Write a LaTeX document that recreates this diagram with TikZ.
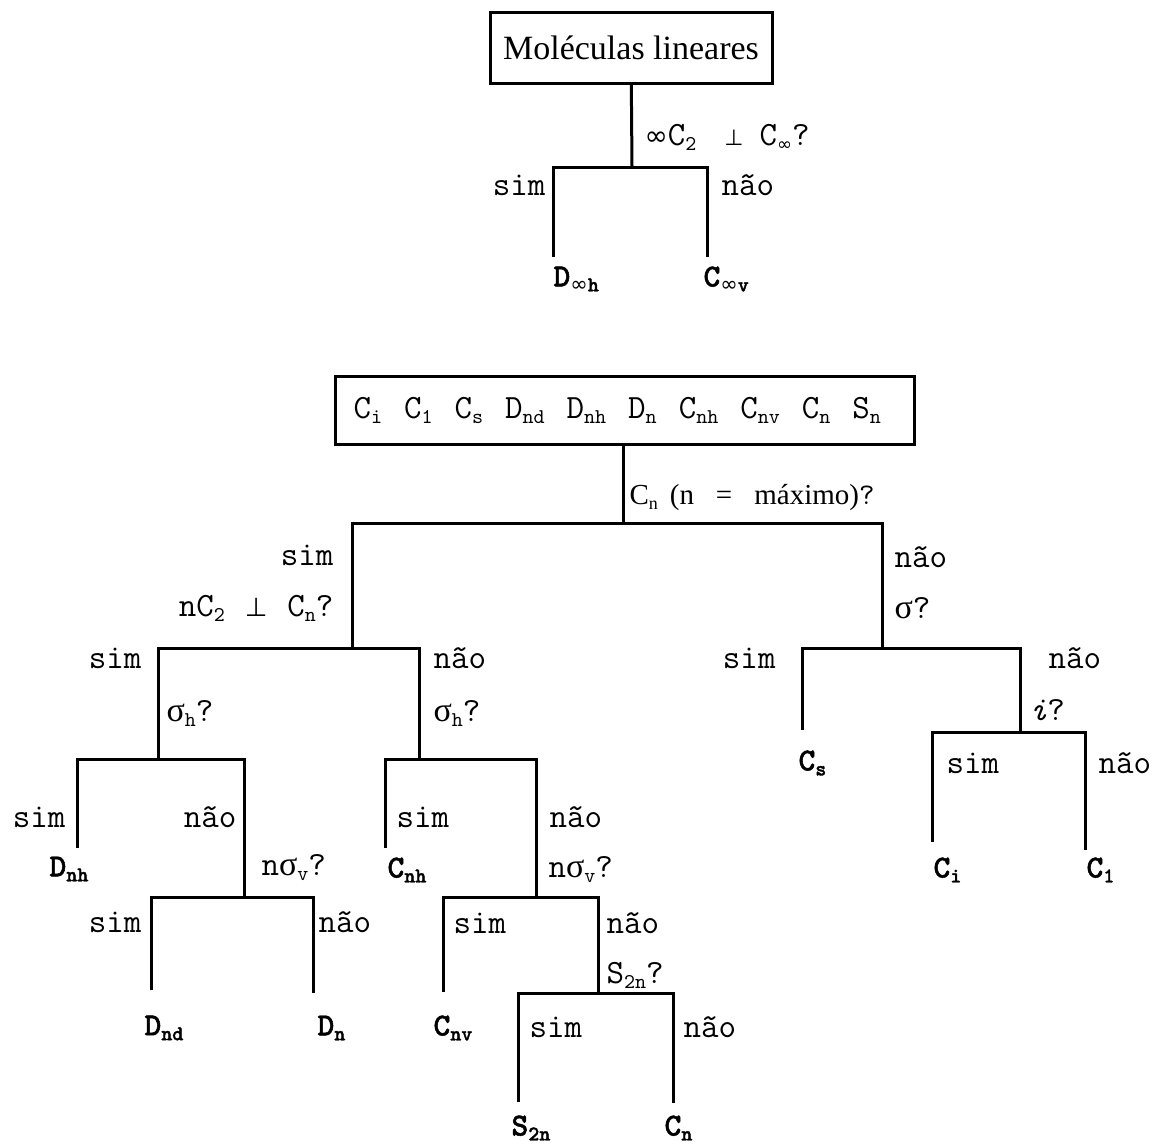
\documentclass[tikz,border=0pt]{standalone}
\usepackage{fontspec}
\setmainfont{Liberation Serif}
\newfontfamily\symf{DejaVu Sans}
\newfontfamily\bmono{lmmonolt10-bold.otf}[FakeBold=1.5]
\newcommand\lo[2][10.5]{\raisebox{-2.5pt}{\fontsize{#1}{#1}\selectfont #2}}
\newcommand\sig{{\rmfamily σ}}
\newcommand\gap{\hspace{11pt}}

\begin{document}
\begin{tikzpicture}[x=0.5pt,y=-0.5pt,line width=1.5pt,
  txt/.style={inner sep=0pt,font=\fontsize{17}{17}\ttfamily},
  res/.style={inner sep=0pt,anchor=west,font=\fontsize{16}{16}\bmono},
  grp/.style={draw,inner sep=0pt}]
\useasboundingbox (0,0) rectangle (1155,1146);

\node[grp,minimum width=141pt,minimum height=35.5pt,font=\fontsize{17}{17}\selectfont] (m1) at (631,47.5) {Moléculas lineares};
\coordinate (q1) at (632,167);
\coordinate (e1) at (553,257);
\coordinate (e2) at (707,257);
\draw (m1) -- (q1);
\draw (e1) |- (q1) -| (e2);
\node[txt,anchor=west] (t1) at (643,137) {{\symf\fontsize{14}{14}\selectfont ∞}C\lo{2}\hspace{14pt}{\symf\fontsize{11}{11}\selectfont ⊥}\hspace{8pt}C\lo[9]{\symf ∞}?};
\node[txt,anchor=east] (y1) at (547,185) {sim};
\node[txt,anchor=west] (n1) at (720,185) {não};
\node[res] (Dinfh) at (552,279) {D\lo{{\symf ∞}h}};
\node[res] (Cinfv) at (702,279) {C\lo{{\symf ∞}v}};

\node[grp,txt,text width=271.5pt,inner xsep=9pt,minimum height=34pt,align=left] (m2) at (625,410) {C\lo{i}\gap C\lo{1}\gap C\lo{s}\gap D\lo{nd}\gap D\lo{nh}\gap D\lo{n}\gap C\lo{nh}\gap C\lo{nv}\gap C\lo{n}\gap S\lo{n}};
\coordinate (q2) at (623,523);
\draw (q2 |- m2.south) -- (q2);
\node[anchor=west,inner sep=0pt,font=\fontsize{14.5}{14.5}\selectfont] (t2) at (628,497) {C\lo[9]{n}\hspace{6pt}(n\hspace{11pt}=\hspace{11pt}máximo){\ttfamily\fontsize{15}{15}\selectfont ?}};
\coordinate (q3) at (352,648);
\coordinate (q9) at (882,648);
\draw (q3) |- (q2) -| (q9);
\node[txt,anchor=east] (y2) at (335,555) {sim};
\node[txt,anchor=east] (t3) at (335,608) {nC\lo{2}\hspace{10pt}{\symf\fontsize{13}{13}\selectfont ⊥}\hspace{10pt}C\lo{n}?};
\node[txt,anchor=west] (n2) at (893,557) {não};
\node[txt,anchor=west] (t9) at (893,608) {\sig?};

\coordinate (q4) at (158,759);
\coordinate (q5) at (419,759);
\draw (q4) |- (q3) -| (q5);
\node[txt,anchor=east] (y3) at (143,658) {sim};
\node[txt,anchor=west] (t4) at (165,713) {\sig\lo{h}?};
\node[txt,anchor=west] (n3) at (432,658) {não};
\node[txt,anchor=west] (t5) at (432,713) {\sig\lo{h}?};

\coordinate (e3) at (77,848);
\coordinate (q6) at (244,897);
\draw (e3) |- (q4) -| (q6);
\node[txt,anchor=east] (y4) at (67,817) {sim};
\node[txt,anchor=east] (n4) at (238,817) {não};
\node[res] (Dnh) at (48,869) {D\lo{nh}};
\node[txt,anchor=west] (t6) at (260,868) {n\sig\lo{v}?};

\coordinate (e4) at (151,990);
\coordinate (e5) at (313,993);
\draw (e4) |- (q6) -| (e5);
\node[txt,anchor=east] (y5) at (143,922) {sim};
\node[txt,anchor=west] (n5) at (317,922) {não};
\node[res] (Dnd) at (143,1028) {D\lo{nd}};
\node[res] (Dn) at (316,1028) {D\lo{n}};

\coordinate (e6) at (385,848);
\coordinate (q7) at (536,897);
\draw (e6) |- (q5) -| (q7);
\node[txt,anchor=west] (y6) at (395,817) {sim};
\node[txt,anchor=west] (n6) at (548,817) {não};
\node[res] (Cnh) at (386,870) {C\lo{nh}};
\node[txt,anchor=west] (t7) at (547,870) {n\sig\lo{v}?};

\coordinate (e7) at (443,992);
\coordinate (q8) at (598,993);
\draw (e7) |- (q7) -| (q8);
\node[txt,anchor=west] (y7) at (452,923) {sim};
\node[txt,anchor=west] (n7) at (605,923) {não};
\node[res] (Cnv) at (432,1028) {C\lo{nv}};
\node[txt,anchor=west] (t8) at (605,975) {S\lo{2n}?};

\coordinate (e8) at (518,1102);
\coordinate (e9) at (673,1103);
\draw (e8) |- (q8) -| (e9);
\node[txt,anchor=west] (y8) at (528,1027) {sim};
\node[txt,anchor=west] (n8) at (682,1027) {não};
\node[res] (S2n) at (510,1128) {S\lo{2n}};
\node[res] (Cn) at (663,1128) {C\lo{n}};

\coordinate (e10) at (802,730);
\coordinate (q10) at (1020,732);
\draw (e10) |- (q9) -| (q10);
\node[txt,anchor=east] (y9) at (777,658) {sim};
\node[txt,anchor=west] (n9) at (1047,658) {não};
\node[res] (Cs) at (797,763) {C\lo{s}};
\node[txt,anchor=west] (t10) at (1028,710) {{\itshape i}?};

\coordinate (e11) at (932,842);
\coordinate (e12) at (1085,850);
\draw (e11) |- (q10) -| (e12);
\node[txt,anchor=west] (y10) at (945,763) {sim};
\node[txt,anchor=west] (n10) at (1097,763) {não};
\node[res] (Ci) at (932,870) {C\lo{i}};
\node[res] (C1) at (1085,870) {C\lo{1}};
\end{tikzpicture}
\end{document}
